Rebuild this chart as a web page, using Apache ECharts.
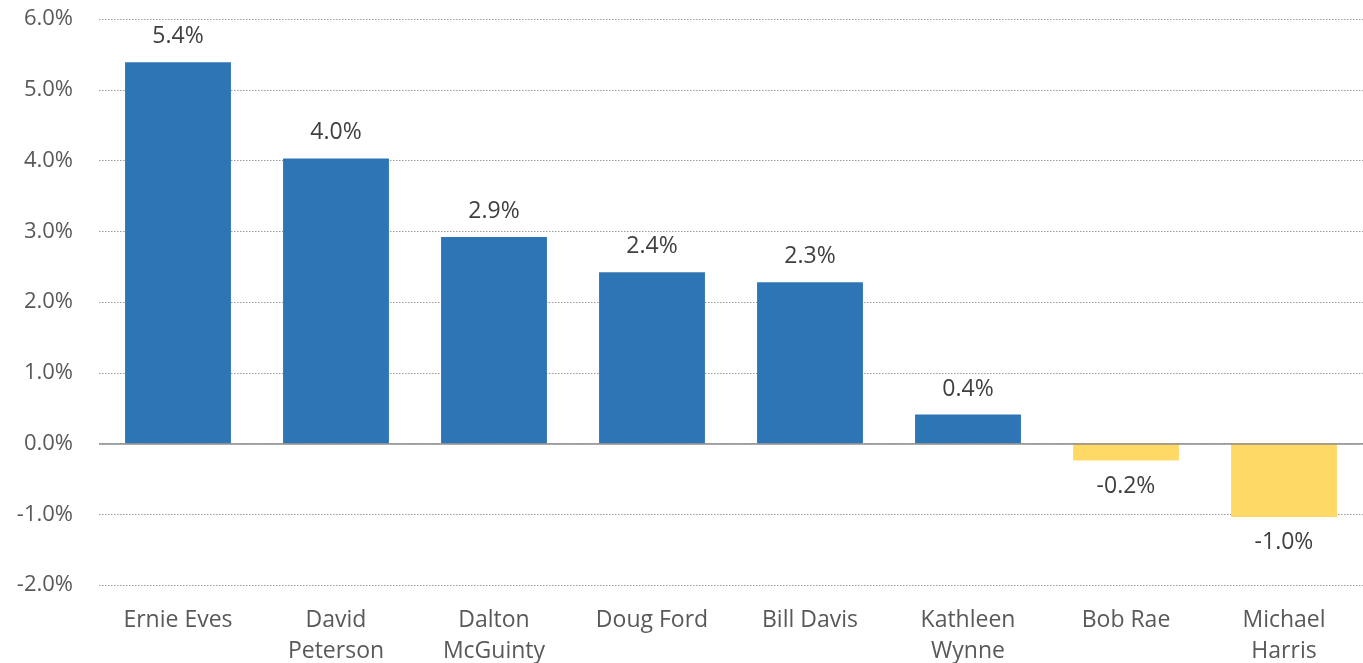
<!DOCTYPE html>
<html><head><meta charset="utf-8">
<script src="https://cdn.jsdelivr.net/npm/echarts@6/dist/echarts.min.js"></script>
<style>html,body{margin:0;padding:0;background:#fff}#c{width:1363px;height:663px}</style>
</head><body><div id="c"></div>
<script>
const categories = ["Ernie Eves","David\nPeterson","Dalton\nMcGuinty","Doug Ford","Bill Davis","Kathleen\nWynne","Bob Rae","Michael\nHarris"];
const values = [5.39, 4.03, 2.92, 2.42, 2.28, 0.41, -0.24, -1.04];
const yTicks = {min: -2, max: 6, interval: 1};
const posColor = "#2E75B6", negColor = "#FFD966";
const font = "'Open Sans', 'Noto Sans', sans-serif";

const chart = echarts.init(document.getElementById('c'), null, {renderer: 'canvas'});
chart.setOption({
  animation: false,
  grid: {left: 99, right: 0, top: 19, bottom: 78, outerBoundsMode: 'none', containLabel: false},
  xAxis: {
    type: 'category', data: categories,
    axisLine: {show: false}, axisTick: {show: false},
    axisLabel: {fontFamily: font, fontSize: 23, color: '#595959', lineHeight: 31, margin: 20, interval: 0}
  },
  yAxis: {
    type: 'value', min: yTicks.min, max: yTicks.max, interval: yTicks.interval,
    axisLine: {show: false}, axisTick: {show: false},
    axisLabel: {fontFamily: font, fontSize: 22, color: '#595959', margin: 26, formatter: v => v.toFixed(1) + '%'},
    splitLine: {lineStyle: {color: '#9a9a9a', type: [1.5, 1.5], width: 1}}
  },
  series: [{
    type: 'bar', barCategoryGap: '33%',
    data: values.map(v => ({
      value: v,
      itemStyle: {color: v >= 0 ? posColor : negColor},
      label: {position: v >= 0 ? 'top' : 'bottom'}
    })),
    label: {show: true, distance: 14, fontFamily: font, fontSize: 23, color: '#404040', formatter: p => p.value.toFixed(1) + '%'},
    markLine: {
      silent: true, symbol: 'none', label: {show: false},
      lineStyle: {color: '#8c8c8c', type: 'solid', width: 1.5},
      data: [{yAxis: 0}]
    }
  }]
});
</script></body></html>
